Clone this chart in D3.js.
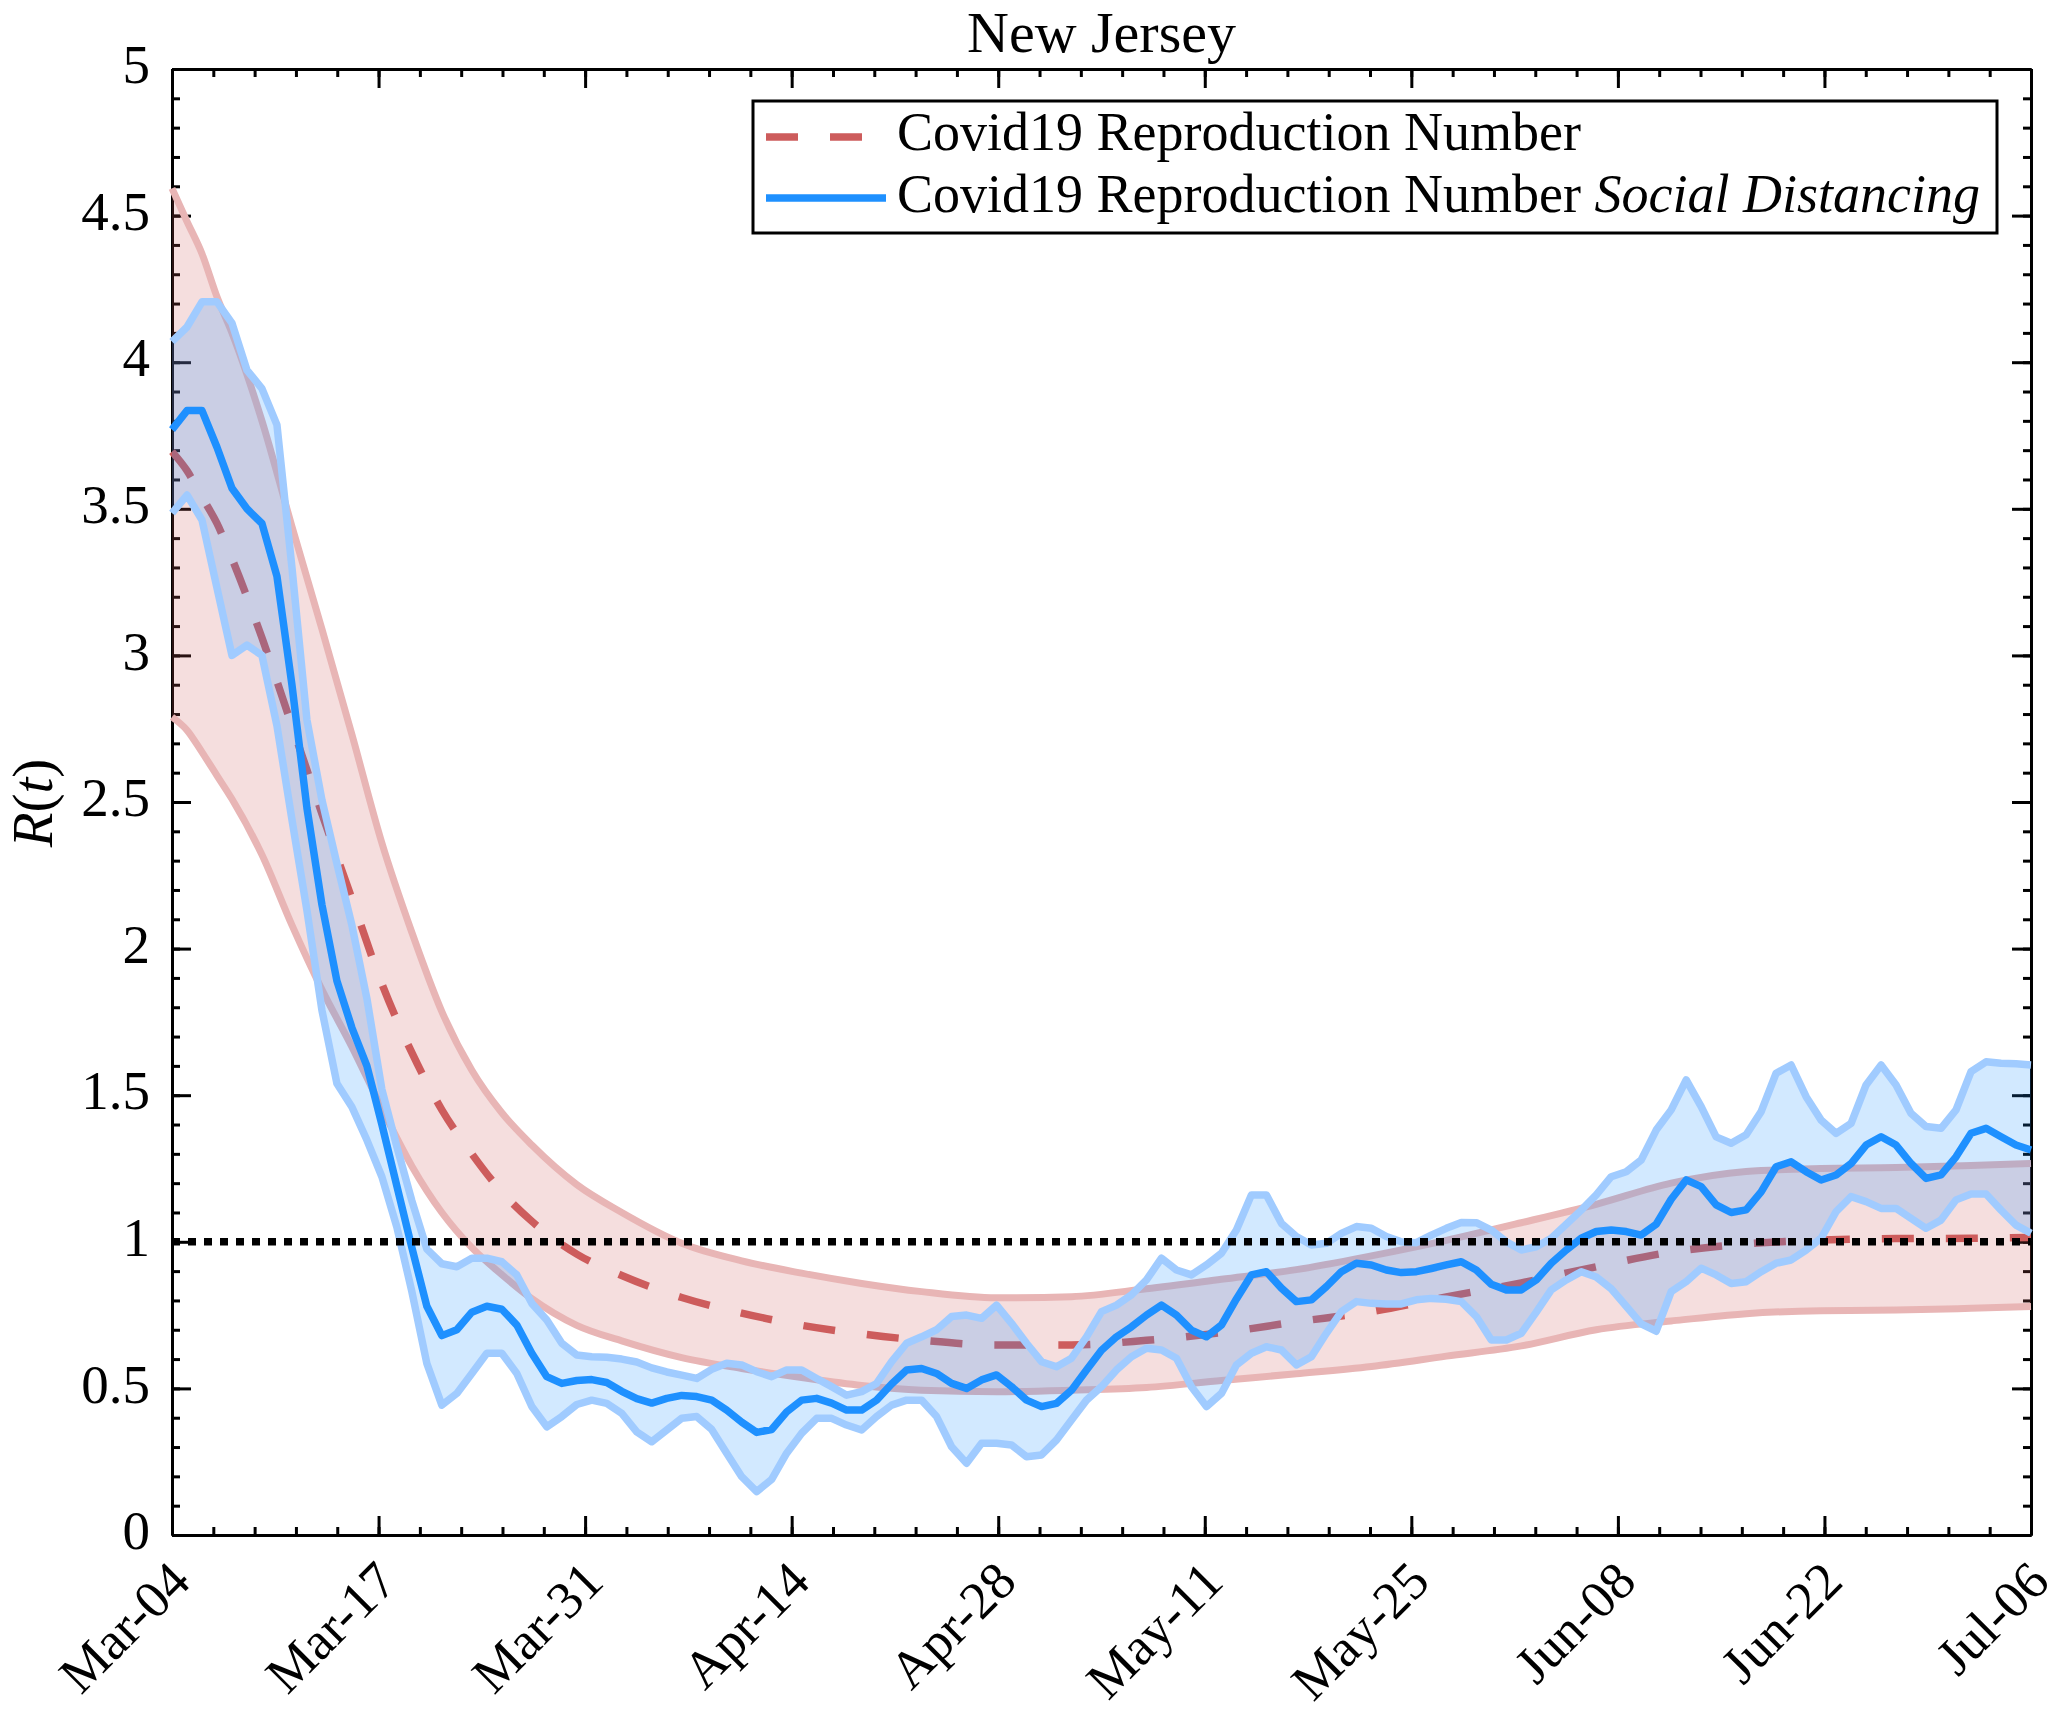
<!DOCTYPE html>
<html>
<head>
<meta charset="utf-8">
<script src="https://cdnjs.cloudflare.com/ajax/libs/d3/7.8.5/d3.min.js"></script>
<style>
body { margin: 0; background: #fff; }
text { font-family: "Liberation Serif", "Times New Roman", serif; }
</style>
</head>
<body>
<div id="chart"></div>
<script>
// tick labels
var xLabels = ["Mar-04", "Mar-17", "Mar-31", "Apr-14", "Apr-28", "May-11", "May-25", "Jun-08", "Jun-22", "Jul-06"];
var yTicks = [0, 0.5, 1, 1.5, 2, 2.5, 3, 3.5, 4, 4.5, 5];

// reproduction number (smooth model), sampled on these days since Mar-04
var redDays = [0, 1, 2, 3, 4, 6, 8, 10, 12, 14, 16, 18, 20, 22, 24, 27, 30, 34, 38, 42, 46, 50,
  55, 60, 65, 70, 75, 80, 85, 90, 95, 100, 105, 110, 115, 120, 124];
var redUpper = [4.593, 4.48, 4.37, 4.223, 4.10, 3.80, 3.44, 3.09, 2.73, 2.36, 2.055, 1.785, 1.585, 1.44,
  1.33, 1.195, 1.10, 0.995, 0.935, 0.893, 0.858, 0.83, 0.809, 0.813, 0.84, 0.872, 0.905, 0.952, 1.005,
  1.065, 1.128, 1.20, 1.24, 1.25, 1.253, 1.26, 1.267];
var redMid = [3.695, 3.63, 3.54, 3.45, 3.33, 3.06, 2.76, 2.46, 2.17, 1.88, 1.645, 1.45, 1.30, 1.17,
  1.07, 0.958, 0.885, 0.81, 0.757, 0.715, 0.686, 0.664, 0.648, 0.648, 0.664, 0.69, 0.727, 0.762, 0.812,
  0.86, 0.915, 0.965, 0.993, 1.006, 1.011, 1.012, 1.015];
var redLower = [2.79, 2.745, 2.67, 2.59, 2.51, 2.32, 2.08, 1.86, 1.665, 1.455, 1.258, 1.10, 0.98, 0.888,
  0.806, 0.715, 0.662, 0.605, 0.568, 0.537, 0.51, 0.494, 0.489, 0.494, 0.503, 0.527, 0.55, 0.575, 0.61,
  0.645, 0.70, 0.73, 0.755, 0.765, 0.767, 0.773, 0.779];

// social distancing series, one value per day from Mar-04 to Jul-06
var blueMid = [3.77, 3.835, 3.835, 3.71, 3.57, 3.50, 3.45, 3.27, 2.90, 2.48,
  2.15, 1.89, 1.73, 1.60, 1.40, 1.19, 0.98, 0.78, 0.68, 0.70,
  0.76, 0.78, 0.77, 0.716, 0.62, 0.54, 0.517, 0.527, 0.53, 0.52,
  0.49, 0.465, 0.45, 0.466, 0.476, 0.472, 0.46, 0.426, 0.385, 0.35,
  0.36, 0.42, 0.46, 0.466, 0.45, 0.426, 0.426, 0.46, 0.515, 0.563,
  0.568, 0.551, 0.517, 0.50, 0.529, 0.546, 0.506, 0.46, 0.438, 0.449,
  0.494, 0.563, 0.63, 0.676, 0.71, 0.75, 0.784, 0.75, 0.699, 0.676,
  0.716, 0.805, 0.887, 0.898, 0.842, 0.796, 0.802, 0.847, 0.898, 0.927,
  0.921, 0.904, 0.895, 0.898, 0.909, 0.921, 0.932, 0.904, 0.855, 0.836,
  0.836, 0.87, 0.927, 0.972, 1.012, 1.035, 1.04, 1.035, 1.023, 1.06,
  1.145, 1.211, 1.188, 1.126, 1.10, 1.109, 1.17, 1.256, 1.273, 1.239,
  1.211, 1.228, 1.267, 1.33, 1.358, 1.33, 1.267, 1.216, 1.228, 1.29,
  1.37, 1.387, 1.358, 1.33, 1.313];
var blueUpper = [4.07, 4.12, 4.206, 4.206, 4.133, 3.973, 3.91, 3.786, 3.30, 2.78,
  2.507, 2.29, 2.08, 1.83, 1.52, 1.324, 1.14, 0.975, 0.925, 0.915,
  0.944, 0.944, 0.932, 0.887, 0.79, 0.733, 0.654, 0.614, 0.608, 0.606,
  0.60, 0.59, 0.57, 0.556, 0.545, 0.534, 0.565, 0.586, 0.58, 0.557,
  0.54, 0.563, 0.563, 0.534, 0.506, 0.477, 0.489, 0.517, 0.591, 0.654,
  0.676, 0.70, 0.745, 0.75, 0.739, 0.784, 0.722, 0.654, 0.591, 0.574,
  0.603, 0.676, 0.762, 0.784, 0.819, 0.87, 0.944, 0.904, 0.887, 0.921,
  0.961, 1.04, 1.16, 1.16, 1.063, 1.018, 0.989, 0.995, 1.029, 1.052,
  1.046, 1.018, 1.0, 0.997, 1.023, 1.046, 1.066, 1.065, 1.04, 1.0,
  0.972, 0.983, 1.012, 1.06, 1.108, 1.16, 1.222, 1.239, 1.279, 1.381,
  1.45, 1.552, 1.461, 1.358, 1.336, 1.365, 1.444, 1.575, 1.603, 1.495,
  1.415, 1.37, 1.404, 1.535, 1.603, 1.535, 1.438, 1.393, 1.387, 1.45,
  1.58, 1.614, 1.609, 1.607, 1.603];
var blueLower = [3.485, 3.547, 3.462, 3.23, 3.00, 3.035, 3.00, 2.76, 2.44, 2.13,
  1.79, 1.54, 1.46, 1.347, 1.222, 1.05, 0.83, 0.585, 0.443, 0.483,
  0.551, 0.62, 0.62, 0.551, 0.438, 0.369, 0.404, 0.445, 0.46, 0.449,
  0.415, 0.352, 0.318, 0.358, 0.398, 0.404, 0.36, 0.279, 0.199, 0.148,
  0.19, 0.279, 0.347, 0.398, 0.398, 0.375, 0.358, 0.404, 0.443, 0.46,
  0.46, 0.404, 0.301, 0.245, 0.313, 0.313, 0.307, 0.267, 0.273, 0.324,
  0.392, 0.46, 0.506, 0.563, 0.608, 0.637, 0.631, 0.603, 0.506, 0.438,
  0.483, 0.58, 0.62, 0.642, 0.631, 0.58, 0.608, 0.688, 0.762, 0.796,
  0.79, 0.788, 0.788, 0.802, 0.807, 0.804, 0.796, 0.745, 0.665, 0.665,
  0.688, 0.76, 0.836, 0.87, 0.898, 0.88, 0.84, 0.78, 0.72, 0.695,
  0.83, 0.864, 0.91, 0.887, 0.858, 0.864, 0.898, 0.927, 0.938, 0.972,
  1.012, 1.103, 1.154, 1.137, 1.114, 1.114, 1.08, 1.046, 1.074, 1.143,
  1.163, 1.163, 1.108, 1.057, 1.029];

var legendLabels = ["Covid19 Reproduction Number", "Covid19 Reproduction Number "];
var legendItalic = "Social Distancing";

var width = 2059,
    height = 1716,
    nDays = 124;

var x = d3.scaleLinear().domain([0, nDays]).range([172, 2031]);
var y = d3.scaleLinear().domain([0, 5]).range([1535, 69]);

var svg = d3.select("#chart").append("svg")
  .attr("width", width)
  .attr("height", height);

var xMajor = xLabels.map(function(d, i) { return i * nDays / (xLabels.length - 1); });
var xMinor = d3.range(0, 46).map(function(i) { return i * nDays / 45; });
var yMinor = d3.range(0, 51).map(function(i) { return i / 10; });

function styleAxis(g) {
  g.attr("font-family", null).attr("font-size", null);
  g.select(".domain").attr("stroke", "#000").attr("stroke-width", 3);
  g.selectAll(".tick line").attr("stroke", "#000").attr("stroke-width", 3);
}

// box axes, ticks pointing inward
var axes = svg.append("g");

axes.append("g").attr("transform", "translate(0,1535)")
  .call(d3.axisBottom(x).tickValues(xMinor).tickSize(-8).tickSizeOuter(0).tickFormat(""))
  .call(styleAxis);
axes.append("g").attr("transform", "translate(0,69)")
  .call(d3.axisTop(x).tickValues(xMinor).tickSize(-8).tickSizeOuter(0).tickFormat(""))
  .call(styleAxis);
axes.append("g").attr("transform", "translate(0,69)")
  .call(d3.axisTop(x).tickValues(xMajor).tickSize(-19).tickSizeOuter(0).tickFormat(""))
  .call(styleAxis);
axes.append("g").attr("transform", "translate(172,0)")
  .call(d3.axisLeft(y).tickValues(yMinor).tickSize(-8).tickSizeOuter(0).tickFormat(""))
  .call(styleAxis);
axes.append("g").attr("transform", "translate(2031,0)")
  .call(d3.axisRight(y).tickValues(yMinor).tickSize(-8).tickSizeOuter(0).tickFormat(""))
  .call(styleAxis);
axes.append("g").attr("transform", "translate(2031,0)")
  .call(d3.axisRight(y).tickValues(yTicks).tickSize(-19).tickSizeOuter(0).tickFormat(""))
  .call(styleAxis);

var xAxis = axes.append("g").attr("transform", "translate(0,1535)")
  .call(d3.axisBottom(x).tickValues(xMajor).tickSize(-19).tickSizeOuter(0)
    .tickFormat(function(d, i) { return xLabels[i]; }))
  .call(styleAxis);
xAxis.selectAll("text")
  .attr("x", 0)
  .attr("y", 0)
  .attr("dy", "0.35em")
  .attr("fill", "#000")
  .style("font-size", "53px")
  .attr("text-anchor", "end")
  .attr("transform", "translate(7,36) rotate(-45)");

var yAxis = axes.append("g").attr("transform", "translate(172,0)")
  .call(d3.axisLeft(y).tickValues(yTicks).tickSize(-19).tickSizeOuter(0).tickPadding(22)
    .tickFormat(function(d) { return String(d); }))
  .call(styleAxis);
yAxis.selectAll("text")
  .attr("dy", "0.25em")
  .attr("fill", "#000")
  .style("font-size", "55px");

// data
var red = redDays.map(function(d, i) {
  return {day: d, lo: redLower[i], mid: redMid[i], hi: redUpper[i]};
});
var blue = blueMid.map(function(d, i) {
  return {day: i, lo: blueLower[i], mid: d, hi: blueUpper[i]};
});

var redArea = d3.area().curve(d3.curveMonotoneX)
  .x(function(d) { return x(d.day); })
  .y0(function(d) { return y(d.lo); })
  .y1(function(d) { return y(d.hi); });
function redLine(key) {
  return d3.line().curve(d3.curveMonotoneX)
    .x(function(d) { return x(d.day); })
    .y(function(d) { return y(d[key]); });
}
var blueArea = d3.area()
  .x(function(d) { return x(d.day); })
  .y0(function(d) { return y(d.lo); })
  .y1(function(d) { return y(d.hi); });
function blueLine(key) {
  return d3.line()
    .x(function(d) { return x(d.day); })
    .y(function(d) { return y(d[key]); });
}

var plot = svg.append("g");

plot.append("path").datum(red)
  .attr("d", redArea)
  .attr("fill", "#cd5c5c")
  .attr("fill-opacity", 0.2);
["lo", "hi"].forEach(function(k) {
  plot.append("path").datum(red)
    .attr("d", redLine(k))
    .attr("fill", "none")
    .attr("stroke", "#e8b5b5")
    .attr("stroke-width", 7);
});
plot.append("path").datum(red)
  .attr("d", redLine("mid"))
  .attr("fill", "none")
  .attr("stroke", "#cd5c5c")
  .attr("stroke-width", 7.5)
  .attr("stroke-dasharray", "32,32");

plot.append("path").datum(blue)
  .attr("d", blueArea)
  .attr("fill", "#1e90ff")
  .attr("fill-opacity", 0.2);
["lo", "hi"].forEach(function(k) {
  plot.append("path").datum(blue)
    .attr("d", blueLine(k))
    .attr("fill", "none")
    .attr("stroke", "#a0cbff")
    .attr("stroke-width", 7.5)
    .attr("stroke-linejoin", "round");
});
plot.append("path").datum(blue)
  .attr("d", blueLine("mid"))
  .attr("fill", "none")
  .attr("stroke", "#1e90ff")
  .attr("stroke-width", 7.5)
  .attr("stroke-linejoin", "round");

// R = 1 reference
plot.append("line")
  .attr("x1", x(0)).attr("x2", x(nDays))
  .attr("y1", y(1)).attr("y2", y(1))
  .attr("stroke", "#000")
  .attr("stroke-width", 7.5)
  .attr("stroke-dasharray", "8,8");

// title and y label
svg.append("text")
  .attr("x", (x(0) + x(nDays)) / 2)
  .attr("y", 52)
  .attr("text-anchor", "middle")
  .style("font-size", "58px")
  .text("New Jersey");

var ylab = svg.append("text")
  .attr("transform", "translate(52,803) rotate(-90)")
  .attr("text-anchor", "middle")
  .style("font-size", "57px");
ylab.append("tspan").style("font-style", "italic").text("R");
ylab.append("tspan").text("(");
ylab.append("tspan").style("font-style", "italic").text("t");
ylab.append("tspan").text(")");

// legend
var legend = svg.append("g");
legend.append("rect")
  .attr("x", 753).attr("y", 101)
  .attr("width", 1244).attr("height", 132)
  .attr("fill", "#fff")
  .attr("stroke", "#000")
  .attr("stroke-width", 3);
legend.append("line")
  .attr("x1", 766).attr("x2", 887).attr("y1", 137).attr("y2", 137)
  .attr("stroke", "#cd5c5c").attr("stroke-width", 7.5)
  .attr("stroke-dasharray", "32,32");
legend.append("line")
  .attr("x1", 766).attr("x2", 886).attr("y1", 198).attr("y2", 198)
  .attr("stroke", "#1e90ff").attr("stroke-width", 7.5);
legend.append("text")
  .attr("x", 897).attr("y", 150)
  .style("font-size", "54px")
  .text(legendLabels[0]);
var l2 = legend.append("text")
  .attr("x", 897).attr("y", 212)
  .style("font-size", "54px")
  .attr("xml:space", "preserve");
l2.append("tspan").text(legendLabels[1]);
l2.append("tspan").style("font-style", "italic").text(legendItalic);
</script>
</body>
</html>
